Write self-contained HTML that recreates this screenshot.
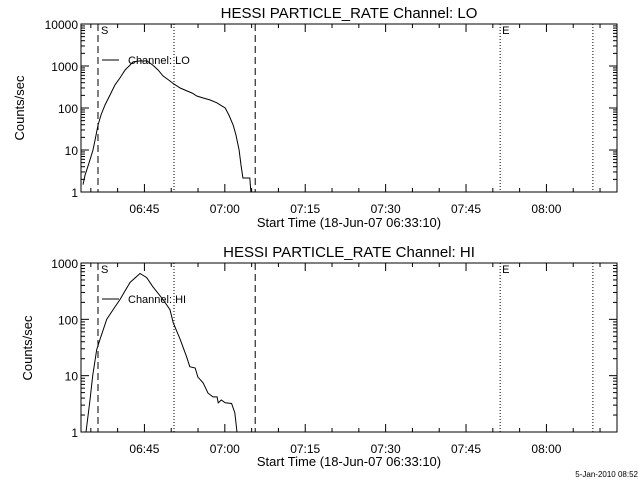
<!DOCTYPE html>
<html><head><meta charset="utf-8"><style>
html,body{margin:0;padding:0;background:#fff;}
svg{display:block;font-family:"Liberation Sans",sans-serif;}
</style></head><body>
<svg id="chart" width="640" height="480" viewBox="0 0 640 480" xmlns="http://www.w3.org/2000/svg">
<text x="349" y="18" text-anchor="middle" font-size="15">HESSI PARTICLE_RATE Channel: LO</text>
<text x="349" y="257" text-anchor="middle" font-size="15">HESSI PARTICLE_RATE Channel: HI</text>
<text x="349" y="227" text-anchor="middle" font-size="13">Start Time (18-Jun-07 06:33:10)</text>
<text x="349" y="466" text-anchor="middle" font-size="13">Start Time (18-Jun-07 06:33:10)</text>
<text transform="translate(24,108) rotate(-90)" text-anchor="middle" font-size="13">Counts/sec</text>
<text transform="translate(32,348) rotate(-90)" text-anchor="middle" font-size="13">Counts/sec</text>
<text x="638" y="477" text-anchor="end" font-size="8">5-Jan-2010 08:52</text>
</svg>
<script>
// minutes from 06:33:10
const loTimes = [0.37,0.75,1.49,2.24,2.61,3.17,3.73,4.48,5.41,6.34,7.28,8.21,9.14,9.70,11.0,12.3,13.4,14.4,15.3,16.6,17.35,18.5,19.8,20.7,21.6,22.8,24.1,25.4,26.3,26.9,27.6,28.4,28.9,29.5,29.85,30.2,31.5,31.7];
const loValues = [1.5,2.5,4.9,10,17,39,68,118,204,355,520,800,1050,1250,1320,1320,1050,800,580,440,370,300,254,228,193,173,155,132,111,100,68,39,23,10,4.4,2.15,2.15,1];
const hiTimes = [0.93,1.68,2.18,2.93,3.54,4.79,6.03,7.28,9.14,11.0,12.26,13.4,15.3,16.6,17.2,18.5,19.7,20.3,21.3,21.8,22.8,23.7,24.6,25.4,25.6,26.2,26.9,28.1,28.7,29.1];
const hiValues = [1,3.7,10,29,44,100,150,225,450,650,550,380,225,148,87,44,21.6,14.4,13.7,9.5,7.4,4.9,4.2,4.2,3.3,3.7,3.3,3.2,2.2,1];
const tickLabels = ["06:45","07:00","07:15","07:30","07:45","08:00"];
const tickMinutes = [11.833,26.833,41.833,56.833,71.833,86.833];
const dashedLines = [3.17,32.5];
const dottedLines = [17.35,78.2,95.5];
const loYLabels = ["1","10","100","1000","10000"];
const hiYLabels = ["1","10","100","1000"];

const NS="http://www.w3.org/2000/svg";
const svg=document.getElementById('chart');
const X0=81,X1=617,TMAX=100;
function xs(t){return X0+(t/TMAX)*(X1-X0);}
function mk(tag,attrs,parent){const e=document.createElementNS(NS,tag);for(const k in attrs)e.setAttribute(k,attrs[k]);(parent||svg).appendChild(e);return e;}

function panel(name,top,bot,decades,labels,times,values,legend){
  const g=mk('g',{});
  
  
  const ys=v=>bot-(Math.log10(v)/decades)*(bot-top);
  const frame=mk('rect',{x:X0,y:top,width:X1-X0,height:bot-top,fill:'none',stroke:'#000','stroke-width':1},g);
  
  
  // x ticks
  for(let m=1.833;m<=TMAX;m+=5){
    const x=xs(m);
    const major=tickMinutes.some(t=>Math.abs(t-m)<0.01);
    const L=major?8:4;
    mk('line',{x1:x,x2:x,y1:bot,y2:bot-L,stroke:'#000'},g);
    mk('line',{x1:x,x2:x,y1:top,y2:top+L,stroke:'#000'},g);
  }
  tickLabels.forEach((lab,i)=>{
    const t=mk('text',{x:xs(tickMinutes[i]),y:bot+21,'text-anchor':'middle','font-size':12},g);
    t.textContent=lab;
    
    
  });
  // y ticks
  for(let d=0;d<=decades;d++){
    const y=ys(Math.pow(10,d));
    mk('line',{x1:X0,x2:X0+8,y1:y,y2:y,stroke:'#000'},g);
    mk('line',{x1:X1,x2:X1-8,y1:y,y2:y,stroke:'#000'},g);
    if(d<decades)for(let k=2;k<10;k++){
      const yy=ys(k*Math.pow(10,d));
      mk('line',{x1:X0,x2:X0+4,y1:yy,y2:yy,stroke:'#000'},g);
      mk('line',{x1:X1,x2:X1-4,y1:yy,y2:yy,stroke:'#000'},g);
    }
  }
  labels.forEach((lab,i)=>{
    const t=mk('text',{x:X0-3,y:ys(Math.pow(10,i))+5,'text-anchor':'end','font-size':12},g);
    t.textContent=lab;
    
    
  });
  dashedLines.forEach(m=>{
    const l=mk('line',{x1:xs(m),x2:xs(m),y1:top,y2:bot,stroke:'#000','stroke-dasharray':'7,4'},g);
    
    
  });
  dottedLines.forEach(m=>{
    const l=mk('line',{x1:xs(m),x2:xs(m),y1:top,y2:bot,stroke:'#000','stroke-dasharray':'1,2'},g);
    
    
  });
  const s=mk('text',{x:xs(3.17)+3,y:top+10,'font-size':11},g);s.textContent='S';
  
  
  const e=mk('text',{x:xs(78.2)+2,y:top+10,'font-size':11},g);e.textContent='E';
  
  
  const pts=times.map((t,i)=>xs(t).toFixed(1)+','+ys(values[i]).toFixed(1)).join(' ');
  const pl=mk('polyline',{points:pts,fill:'none',stroke:'#000','stroke-width':1},g);
  
  
  const ly=legend.y;
  const ll=mk('line',{x1:102,x2:119,y1:ly,y2:ly,stroke:'#000'},g);
  
  
  const lt=mk('text',{x:128,y:ly+4,'font-size':11},g);lt.textContent=legend.text;
  
  
}
panel('lo',24,192,4,loYLabels,loTimes,loValues,{y:60,text:'Channel: LO'});
panel('hi',263,432,3,hiYLabels,hiTimes,hiValues,{y:299,text:'Channel: HI'});
</script>
</body></html>
